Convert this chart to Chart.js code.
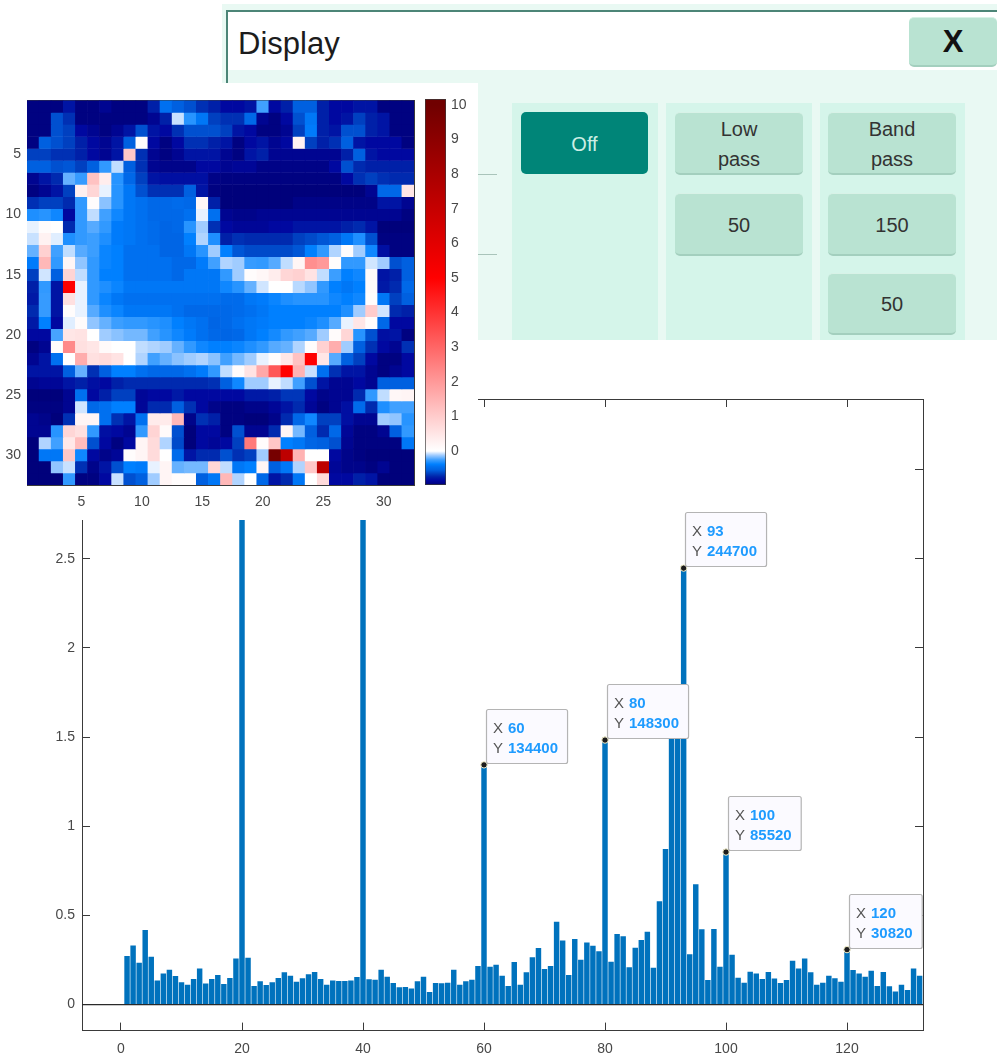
<!DOCTYPE html>
<html>
<head>
<meta charset="utf-8">
<title>Display</title>
<script src="https://cdn.jsdelivr.net/npm/chart.js@4/dist/chart.umd.min.js"></script>
<style>
  html, body { margin: 0; padding: 0; background: #fff; }
  body { position: relative; width: 997px; height: 1054px; overflow: hidden; font-family: "Liberation Sans", Arial, sans-serif; }
  canvas { position: absolute; display: block; filter: blur(0.4px); }
  #barChart { left: 0; top: 0; z-index: 2; }
  #heatChart { left: 0; top: 83px; z-index: 3; background: #fff; }
  #colorbarChart { left: 420px; top: 70px; z-index: 4; }

  /* settings panel behind the plots */
  .box { position: absolute; box-sizing: border-box; }
  .btn { position: absolute; box-sizing: border-box; background: #b9e3d2; color: #333; border-radius: 5px; padding-top: 3px;
         border-bottom: 2px solid #a3cfbe; border-top: 1px solid #d8f2e7; font-size: 20px; line-height: 29.5px;
         display: flex; align-items: center; justify-content: center; text-align: center; }
  .col { position: absolute; top: 103px; height: 237px; background: #d5f5ea; }
  .dash { position: absolute; left: 478px; width: 19px; height: 1px; background: #a9c4ba; }
</style>
</head>
<body>
<div class="box" style="left:222px;top:4px;width:775px;height:336px;background:#e9f9f3"></div>
<div class="box" style="left:226px;top:10px;width:771px;height:60px;background:#fff;border-top:2px solid #4c8577;border-left:2px solid #4c8577"></div>
<div class="box" style="left:226px;top:70px;width:2px;height:14px;background:#4c8577"></div>
<div class="box" style="left:238px;top:26px;font-size:31px;line-height:36px;color:#1c1c1c">Display</div>
<div class="btn" style="left:909px;top:17px;width:88px;height:50px;font-size:31px;font-weight:bold;color:#111;padding-top:0">X</div>
<div class="col" style="left:512px;width:146px"></div>
<div class="col" style="left:666px;width:146px"></div>
<div class="col" style="left:820px;width:145px"></div>
<div class="dash" style="top:174px"></div>
<div class="dash" style="top:254px"></div>
<div class="btn" style="left:521px;top:112px;width:127px;height:62px;background:#008578;color:#cdeee4;border:0">Off</div>
<div class="btn" style="left:675px;top:112px;width:128px;height:63px">Low<br>pass</div>
<div class="btn" style="left:675px;top:193px;width:128px;height:63px">50</div>
<div class="btn" style="left:828px;top:112px;width:128px;height:63px">Band<br>pass</div>
<div class="btn" style="left:828px;top:193px;width:128px;height:63px">150</div>
<div class="btn" style="left:828px;top:273px;width:128px;height:62px">50</div>

<canvas id="barChart" width="997" height="1054"></canvas>
<canvas id="heatChart" width="478" height="437"></canvas>
<canvas id="colorbarChart" width="58" height="440"></canvas>

<script>
// --- Data ---
// Bar heights for bins 1..132 (axis units, Y tip / 100000). Bins 20 and 40 run up behind the heat map.
const barValues = [
  0.27, 0.33, 0.233, 0.416, 0.267, 0.134, 0.172, 0.194, 0.159, 0.123, 0.11, 0.142, 0.2, 0.116, 0.142, 0.164, 0.114, 0.147, 0.256, 3.3,
  0.261, 0.103, 0.129, 0.108, 0.123, 0.147, 0.179, 0.16, 0.127, 0.146, 0.168, 0.181, 0.142, 0.11, 0.134, 0.131, 0.131, 0.134, 0.153, 3.3,
  0.14, 0.138, 0.194, 0.155, 0.119, 0.095, 0.097, 0.088, 0.129, 0.155, 0.069, 0.119, 0.118, 0.121, 0.194, 0.11, 0.129, 0.138, 0.215, 1.344,
  0.211, 0.222, 0.16, 0.103, 0.237, 0.11, 0.179, 0.263, 0.315, 0.198, 0.215, 0.463, 0.358, 0.164, 0.366, 0.25, 0.347, 0.328, 0.297, 1.483,
  0.239, 0.394, 0.381, 0.207, 0.317, 0.36, 0.407, 0.205, 0.578, 0.87, 1.6, 1.65, 2.447, 0.28, 0.673, 0.42, 0.136, 0.422, 0.211, 0.855,
  0.278, 0.149, 0.121, 0.183, 0.172, 0.142, 0.181, 0.144, 0.119, 0.136, 0.244, 0.201, 0.256, 0.179, 0.11, 0.121, 0.16, 0.146, 0.127, 0.308,
  0.192, 0.172, 0.155, 0.188, 0.103, 0.181, 0.101, 0.071, 0.11, 0.08, 0.2, 0.16
];
const barXTicks = [0, 20, 40, 60, 80, 100, 120];
const barYTicks = [0, 0.5, 1, 1.5, 2, 2.5, 3];

// Data tips
const tipX = [60, 80, 93, 100, 120];
const tipY = [134400, 148300, 244700, 85520, 30820];

// Heat map cells, one list per row (row 1 is the top one)
const heatRows = [
  [-.95,-.95,-.95,-.8,-.95,-.95,-.9,-.95,-.95,-.95,-.75,-.45,-.55,-.6,-.7,-.75,-.85,-.85,-.8,-.25,-.85,-.75,-.55,-.55,-.75,-.85,-.85,-.8,-.8,-.95,-.95,-.95],
  [-.95,-.95,-.6,-.7,-.95,-.95,-.95,-.95,-.95,-.95,-.9,-.75,-.07,-.3,-.42,-.65,-.7,-.7,-.5,-.9,-.95,-.85,-.6,-.42,-.75,-.85,-.8,-.65,-.75,-.8,-.95,-.95],
  [-.95,-.95,-.6,-.65,-.85,-.9,-.95,-.9,-.8,-.6,-.8,-.85,-.7,-.6,-.6,-.6,-.65,-.8,-.85,-.95,-.95,-.9,-.65,-.4,-.75,-.8,-.6,-.6,-.75,-.8,-.95,-.95],
  [-.95,-.55,-.6,-.65,-.75,-.85,-.9,-.8,-.55,.05,-.85,-.95,-.85,-.7,-.7,-.75,-.8,-.95,-.85,-.8,-.9,-.85,.25,-.65,-.75,-.7,-.55,-.8,-.85,-.85,-.85,-.95],
  [-.65,-.65,-.7,-.7,-.75,-.85,-.9,-.8,1.1,-.7,-.9,-.95,-.9,-.8,-.8,-.8,-.9,-.95,-.8,-.75,-.9,-.9,-.9,-.9,-.9,-.9,-.75,-.55,-.8,-.85,-.85,-.85],
  [-.55,-.55,-.6,-.58,-.65,-.55,-.28,-.08,-.55,-.7,-.9,-.92,-.92,-.92,-.85,-.85,-.9,-.88,-.88,-.93,-.93,-.93,-.93,-.93,-.93,-.85,-.6,-.72,-.75,-.75,-.75,-.75],
  [-.9,-.8,-.72,-.2,-.27,1.2,.35,-.3,-.5,-.65,-.8,-.82,-.82,-.82,-.82,-.93,-.95,-.95,-.95,-.95,-.95,-.95,-.95,-.95,-.95,-.95,-.85,-.7,-.65,-.7,-.72,-.72],
  [-.95,-.9,-.8,-.65,.3,.8,-.03,-.3,-.42,-.6,-.7,-.7,-.7,-.55,-.8,-.95,-.97,-.97,-.97,-.97,-.97,-.97,-.97,-.97,-.97,-.97,-.97,-.97,-.9,-.5,-.5,.5],
  [-.7,-.65,-.65,-.72,-.28,.05,-.15,-.3,-.42,-.45,-.5,-.5,-.48,-.5,.15,-.75,-.97,-.97,-.97,-.97,-.97,-.97,-.93,-.93,-.93,-.93,-.93,-.93,-.93,-.8,-.8,-.9],
  [-.32,-.3,-.35,-.85,-.28,-.08,-.25,-.35,-.42,-.45,-.5,-.5,-.5,-.45,-.03,-.45,-.9,-.92,-.92,-.9,-.9,-.9,-.9,-.9,-.9,-.9,-.9,-.9,-.9,-.9,-.9,-.95],
  [-.03,.05,0,-.72,-.28,-.22,-.28,-.4,-.42,-.45,-.48,-.52,-.5,-.3,-.12,-.7,-.85,-.88,-.88,-.88,-.85,-.85,-.8,-.8,-.8,-.8,-.75,-.72,-.8,-.97,-.97,-.97],
  [-.07,.25,-.04,-.32,-.28,-.26,-.32,-.4,-.42,-.45,-.48,-.52,-.52,-.38,-.1,-.32,-.75,-.7,-.72,-.72,-.72,-.72,-.65,-.62,-.58,-.55,-.42,-.32,-.6,-.95,-.95,-.95],
  [-.2,.9,-.25,-.08,-.22,-.26,-.36,-.38,-.45,-.45,-.45,-.52,-.52,-.42,-.3,-.12,-.38,-.58,-.62,-.62,-.62,-.62,-.58,-.38,-.28,-.1,.05,-.12,-.35,-.82,-.95,-.95],
  [-.4,1.4,-.28,.2,-.14,-.28,-.36,-.38,-.45,-.45,-.45,-.45,-.5,-.5,-.4,-.25,-.1,-.12,-.27,-.28,-.22,-.08,.2,2.2,2,.05,-.28,-.28,-.06,-.12,-.6,-.55],
  [-.65,-.06,-.55,.85,-.08,-.28,-.38,-.38,-.45,-.45,-.45,-.45,-.5,-.42,-.42,-.42,-.28,-.12,.05,.15,.35,.8,.9,.55,-.08,-.26,-.38,-.35,.12,-.8,-.75,-.55],
  [-.75,-.28,-.8,5,-.03,-.28,-.32,-.36,-.42,-.42,-.42,-.42,-.42,-.42,-.42,-.42,-.35,-.3,-.2,-.06,0,0,-.09,-.14,-.28,-.38,-.42,-.38,.1,-.78,-.72,-.5],
  [-.78,-.27,-.8,.6,-.03,-.28,-.36,-.42,-.45,-.45,-.45,-.45,-.45,-.45,-.45,-.45,-.48,-.48,-.42,-.4,-.36,-.32,-.3,-.3,-.3,-.35,-.38,-.35,.05,-.42,-.65,-.55],
  [-.72,-.27,-.8,.05,-.03,-.22,-.32,-.36,-.42,-.42,-.42,-.42,-.45,-.5,-.5,-.5,-.5,-.48,-.45,-.42,-.38,-.38,-.38,-.38,-.38,-.38,-.32,-.12,1,-.06,-.72,-.75],
  [-.78,-.38,-.85,-.04,.08,-.14,-.2,-.26,-.28,-.28,-.3,-.32,-.38,-.42,-.45,-.52,-.5,-.45,-.42,-.4,-.38,-.38,-.38,-.36,-.32,-.22,-.03,.5,.05,-.5,-.85,-.85],
  [-.85,-.85,-.24,.5,.55,0,-.12,-.15,-.18,-.18,-.25,-.3,-.35,-.4,-.45,-.5,-.52,-.5,-.42,-.38,-.34,-.28,-.25,-.22,-.12,.08,.8,-.3,-.6,-.82,-.8,-.95],
  [-.95,-.9,.05,2.3,.6,.5,.1,0,0,-.08,-.1,-.12,-.2,-.28,-.35,-.38,-.38,-.36,-.32,-.28,-.22,-.2,-.1,.05,.9,1.6,-.12,-.55,-.7,-.85,-.9,-.7],
  [-.9,-.8,-.45,0,1.6,.6,.7,.55,0,-.1,-.25,-.2,-.15,-.12,-.1,-.15,-.25,-.18,-.12,-.03,.05,.5,1.2,5,.5,-.22,-.55,-.65,-.85,-.95,-.95,-.85],
  [-.8,-.8,-.8,-.55,-.2,-.7,-.55,-.38,-.38,-.45,-.5,-.5,-.5,-.45,-.4,-.28,-.08,.08,.55,1.7,3.3,5,1.5,-.07,-.45,-.7,-.8,-.8,-.9,-.95,-.9,-.85],
  [-.9,-.88,-.88,-.8,-.75,-.82,-.85,-.75,-.72,-.72,-.72,-.72,-.72,-.72,-.72,-.7,-.55,-.35,-.12,-.12,-.03,-.08,-.25,-.6,-.8,-.9,-.9,-.85,-.9,-.55,-.55,-.55],
  [-.97,-.97,-.97,-.9,-.45,-.85,-.75,-.65,-.65,-.88,-.85,-.85,-.78,-.85,-.85,-.85,-.85,-.85,-.78,-.78,-.75,-.68,-.68,-.85,-.92,-.9,-.9,-.72,-.28,-.08,.15,.2],
  [-.95,-.95,-.95,-.9,-.06,-.5,-.45,-.38,-.38,-.88,-.72,-.72,-.55,-.7,-.85,-.92,-.95,-.95,-.92,-.92,-.88,-.8,-.72,-.88,-.95,-.9,-.82,-.48,-.72,-.32,-.25,-.25],
  [-.9,-.92,-.97,-.7,.2,.2,-.45,-.7,-.8,-.45,.4,.4,1.4,-.92,-.7,-.75,-.95,-.95,-.97,-.97,-.92,-.72,-.5,-.35,-.65,-.65,-.82,-.9,-.9,-.12,-.14,-.3],
  [-.9,-.9,-.3,.8,.6,-.28,-.82,-.85,-.9,-.28,.85,.1,-.6,-.97,-.85,-.85,-.95,-.6,-.9,-.9,-.72,.2,-.18,-.55,-.72,-.5,-.88,-.95,-.95,-.9,-.55,-.28],
  [-.97,-.1,-.25,.45,1.3,-.6,-.85,-.95,-.85,.2,.7,-.1,-.62,-.97,-.85,-.88,-.85,-.65,2.6,.05,1.1,-.38,-.42,-.52,-.55,-.6,-.9,-.95,-.95,-.95,-.95,-.42],
  [-.97,-.42,-.42,1.1,-.35,-.85,-.92,-.88,.05,.2,.7,0,-.48,-.8,-.72,-.72,-.6,-.7,-.65,-.12,9.8,7.3,1.5,0,0,-.85,-.92,-.95,-.97,-.97,-.97,-.97],
  [-.97,-.97,-.14,-.07,-.7,-.92,-.8,-.6,-.38,-.4,-.03,.2,-.2,-.18,-.18,.8,-.08,-.42,-.38,.2,-.55,-.42,-.1,1.1,7.3,-.88,-.92,-.92,-.95,-.9,-.97,-.97],
  [-.97,-.97,-.97,-.28,-.95,-.95,-.85,-.07,-.6,-.55,-.12,.2,.05,.05,-.55,-.42,1.4,-.1,0,-.5,-.8,-.72,-.42,0,.7,-.85,-.85,-.75,-.8,-.97,-.97,-.97]
];
const heatTicks = [5, 10, 15, 20, 25, 30];

// Colour scale: value stops with their colours, and the colour bar ticks
const colorStops = [-0.98, -0.85, -0.75, -0.65, -0.55, -0.45, -0.38, -0.25, -0.12, -0.03, 0, 5, 10];
const colorHexes = ['#000078', '#0008a0', '#0020a8', '#0040c0', '#0060e0', '#0070f0', '#0080ff', '#40a0ff', '#a0ccff', '#e8f2ff', '#ffffff', '#ff0000', '#700000'];
const colorbarRange = [-0.98, 10.17];
const colorbarTicks = [0, 1, 2, 3, 4, 5, 6, 7, 8, 9, 10];

// --- Helpers ---
const fontFamily = '"Liberation Sans", Arial, sans-serif';
const axisColor = '#3a3a3a';
const labelColor = '#484848';

function hexToRgb(hex) {
  return [1, 3, 5].map(i => parseInt(hex.slice(i, i + 2), 16));
}

// Piecewise linear lookup in the colour scale
function heatColor(v) {
  let i = 0;
  while (i < colorStops.length - 2 && v > colorStops[i + 1]) i++;
  const t = Math.min(1, Math.max(0, (v - colorStops[i]) / (colorStops[i + 1] - colorStops[i])));
  const a = hexToRgb(colorHexes[i]);
  const b = hexToRgb(colorHexes[i + 1]);
  const c = a.map((ch, k) => Math.round(ch + (b[k] - ch) * t));
  return `rgb(${c[0]},${c[1]},${c[2]})`;
}

// One axis, with inward ticks; shown=false gives the mirrored tick-only side of the box
function axisOptions(position, min, max, tickValues, size, tickLength, gap, shown, reverse) {
  return {
    type: 'linear',
    position: position,
    min: min,
    max: max,
    reverse: !!reverse,
    offset: false,
    afterBuildTicks: axis => { axis.ticks = tickValues.map(v => ({ value: v })); },
    afterFit: axis => {
      if (position === 'left' || position === 'right') axis.width = size; else axis.height = size;
    },
    border: { color: axisColor, width: 1 },
    grid: { drawOnChartArea: false, offset: false, color: axisColor, tickLength: -tickLength, tickWidth: 1 },
    ticks: {
      display: shown,
      autoSkip: false,
      maxRotation: 0,
      padding: gap + tickLength,
      color: labelColor,
      font: { family: fontFamily, size: 14 },
      callback: v => String(v)
    }
  };
}

// --- Bar chart with data tips ---
const barXMin = -6.446, barXMax = 132.56;
const barYMin = -0.1457, barYMax = 3.395;

const dataTipPlugin = {
  id: 'dataTips',
  afterDatasetsDraw(chart) {
    const c = chart.ctx;
    tipX.forEach((xVal, i) => {
      const px = chart.scales.x.getPixelForValue(xVal);
      const py = chart.scales.y.getPixelForValue(tipY[i] / 100000);
      c.save();
      c.font = 'bold 15px ' + fontFamily;
      const w = 22 + c.measureText(String(tipY[i])).width + 9;
      const left = Math.round(px + 1.5), top = Math.round(py - 56);
      c.beginPath();
      c.roundRect(left + 0.5, top + 0.5, w, 54, 2);
      c.fillStyle = '#fbfaff';
      c.fill();
      c.strokeStyle = '#b4b4b4';
      c.lineWidth = 1.2;
      c.stroke();
      c.textBaseline = 'middle';
      c.fillStyle = '#555';
      c.font = '15px ' + fontFamily;
      c.fillText('X', left + 7, top + 19.5);
      c.fillText('Y', left + 7, top + 39.5);
      c.fillStyle = '#1e9bff';
      c.font = 'bold 15px ' + fontFamily;
      c.fillText(String(xVal), left + 22, top + 19.5);
      c.fillText(String(tipY[i]), left + 22, top + 39.5);
      c.restore();
    });
  }
};

new Chart(document.getElementById('barChart'), {
  type: 'bar',
  data: {
    datasets: [
      {
        type: 'scatter',
        data: tipX.map((x, i) => ({ x: x, y: tipY[i] / 100000 })),
        pointRadius: 3.2,
        pointBackgroundColor: '#1c1c1c',
        pointBorderColor: '#f3efc8',
        pointBorderWidth: 1,
        order: 0
      },
      {
        // baseline at zero
        type: 'line',
        data: [{ x: barXMin, y: 0 }, { x: barXMax, y: 0 }],
        borderColor: '#2a2a2a',
        borderWidth: 1.2,
        pointRadius: 0,
        order: 1
      },
      {
        data: barValues.map((v, i) => ({ x: i + 1, y: v })),
        backgroundColor: '#0072bd',
        barThickness: 4.8,
        order: 2
      }
    ]
  },
  options: {
    responsive: false,
    animation: false,
    events: [],
    devicePixelRatio: 1,
    layout: { autoPadding: false, padding: { top: 399, right: 74, left: 0, bottom: 0 } },
    plugins: { legend: { display: false }, tooltip: { enabled: false } },
    scales: {
      x: axisOptions('bottom', barXMin, barXMax, barXTicks, 23, 8, 10, true),
      y: axisOptions('left', barYMin, barYMax, barYTicks, 82, 8, 7, true),
      x2: axisOptions('top', barXMin, barXMax, barXTicks, 0, 8, 0, false),
      y2: axisOptions('right', barYMin, barYMax, barYTicks, 0, 8, 0, false)
    }
  },
  plugins: [dataTipPlugin]
});

// --- Heat map: one floating bar dataset per row ---
new Chart(document.getElementById('heatChart'), {
  type: 'bar',
  data: {
    datasets: heatRows.map((row, r) => ({
      data: row.map((v, c) => ({ x: c + 1, y: [r + 0.5, r + 1.5] })),
      backgroundColor: row.map(heatColor),
      borderWidth: 0,
      barPercentage: 1,
      categoryPercentage: 1,
      grouped: false
    }))
  },
  options: {
    responsive: false,
    animation: false,
    events: [],
    devicePixelRatio: 1,
    layout: { autoPadding: false, padding: { top: 16, right: 64, left: 0, bottom: 0 } },
    plugins: { legend: { display: false }, tooltip: { enabled: false } },
    scales: {
      x: axisOptions('bottom', 0.5, 32.5, heatTicks, 35, 3, 9, true),
      y: axisOptions('left', 0.5, 32.5, heatTicks, 27, 3, 6, true, true),
      x2: axisOptions('top', 0.5, 32.5, heatTicks, 0, 3, 0, false),
      y2: axisOptions('right', 0.5, 32.5, heatTicks, 0, 3, 0, false, true)
    }
  }
});

// --- Colour bar ---
function colorbarFill(context) {
  const chart = context.chart;
  const area = chart.chartArea;
  if (!area) return colorHexes[0];
  const g = chart.ctx.createLinearGradient(0, area.bottom, 0, area.top);
  const span = colorbarRange[1] - colorbarRange[0];
  colorStops.forEach((v, i) => {
    const t = Math.min(1, Math.max(0, (v - colorbarRange[0]) / span));
    g.addColorStop(t, colorHexes[i]);
  });
  return g;
}

new Chart(document.getElementById('colorbarChart'), {
  type: 'bar',
  data: {
    labels: ['scale'],
    datasets: [{
      data: [colorbarRange],
      backgroundColor: colorbarFill,
      borderColor: axisColor,
      borderWidth: 1,
      borderSkipped: false,
      barPercentage: 1,
      categoryPercentage: 1
    }]
  },
  options: {
    responsive: false,
    animation: false,
    events: [],
    devicePixelRatio: 1,
    layout: { autoPadding: false, padding: { top: 29, right: 0, left: 5, bottom: 25 } },
    plugins: { legend: { display: false }, tooltip: { enabled: false } },
    scales: {
      x: { display: false, offset: true },
      y: Object.assign(axisOptions('right', colorbarRange[0], colorbarRange[1], colorbarTicks, 32, 3, 5, true), {
        border: { display: false }
      })
    }
  }
});
</script>
</body>
</html>
